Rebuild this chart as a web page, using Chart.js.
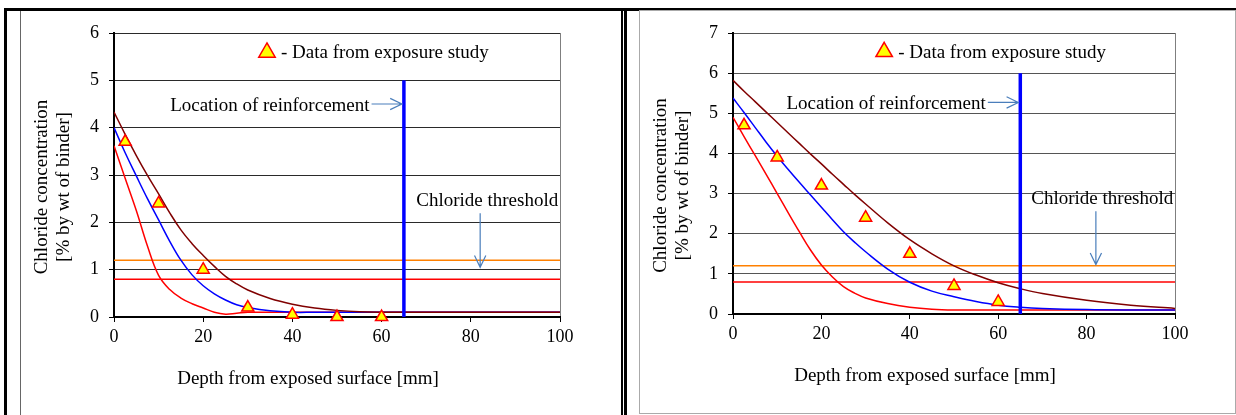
<!DOCTYPE html>
<html lang="en">
<head>
<meta charset="UTF-8">
<title>Chloride profiles</title>
<script src="https://cdn.jsdelivr.net/npm/chart.js/dist/chart.umd.min.js"></script>
<style>
  body { margin: 0; background: #fff; width: 1236px; height: 415px; position: relative; overflow: hidden; }
  .rule { position: absolute; background: #000; }
  canvas { position: absolute; }
  #left { left: 22px; top: 11px; }
  #right { left: 640px; top: 11px; }
</style>
</head>
<body>
  <!-- table frame around the two panels -->
  <div class="rule" style="left:4px;top:8px;width:1232px;height:3px"></div>
  <div class="rule" style="left:4px;top:8px;width:3px;height:407px"></div>
  <div class="rule" style="left:20px;top:11px;width:1px;height:404px;background:#666"></div>
  <div class="rule" style="left:621px;top:11px;width:2px;height:404px"></div>
  <div class="rule" style="left:624px;top:8px;width:3px;height:407px"></div>
  <div style="position:absolute;left:639px;top:10px;width:595px;height:402px;border:1px solid #aaa"></div>

  <canvas id="left" width="598" height="404"></canvas>
  <canvas id="right" width="595" height="402"></canvas>

<script>
// depth grid shared by the fitted profiles [mm]
const depth = [0, 2.5, 5, 7.5, 10, 12.5, 15, 17.5, 20, 22.5, 25, 27.5, 30, 35, 40, 45, 50, 55, 60, 65, 70, 80, 90, 100];

// left panel profiles [% by wt of binder]
const leftBrown = [4.33, 3.86, 3.41, 2.99, 2.6, 2.2, 1.84, 1.55, 1.3, 1.07, 0.86, 0.7, 0.57, 0.39, 0.27, 0.19, 0.14, 0.11, 0.1, 0.1, 0.1, 0.1, 0.1, 0.1];
const leftBlue  = [4.0, 3.47, 2.98, 2.5, 2.05, 1.6, 1.2, 0.89, 0.66, 0.49, 0.36, 0.26, 0.2, 0.13, 0.1, 0.1, 0.1, 0.1, 0.1, 0.1, 0.1, 0.1, 0.1, 0.1];
const leftRed   = [3.62, 2.93, 2.25, 1.5, 0.88, 0.58, 0.4, 0.28, 0.19, 0.1, 0.06, 0.08, 0.1, 0.1, 0.1, 0.1, 0.1, 0.1, 0.1, 0.1, 0.1, 0.1, 0.1, 0.1];

// right panel profiles
const rightBrown = [5.82, 5.55, 5.29, 5.03, 4.77, 4.51, 4.25, 3.99, 3.74, 3.48, 3.23, 2.98, 2.74, 2.27, 1.85, 1.5, 1.2, 0.97, 0.78, 0.63, 0.51, 0.34, 0.22, 0.14];
const rightBlue  = [5.38, 5.02, 4.65, 4.28, 3.93, 3.6, 3.28, 2.97, 2.66, 2.35, 2.05, 1.79, 1.55, 1.12, 0.79, 0.57, 0.43, 0.31, 0.22, 0.17, 0.14, 0.11, 0.1, 0.1];
const rightRed   = [4.9, 4.42, 3.95, 3.48, 3.0, 2.52, 2.05, 1.6, 1.22, 0.92, 0.68, 0.52, 0.4, 0.26, 0.17, 0.12, 0.1, 0.1, 0.1, 0.1, 0.1, 0.1, 0.1, 0.1];

// exposure study measurements
const studyDepth = [2.5, 10, 20, 30, 40, 50, 60];
const leftStudy  = [3.7, 2.4, 1.0, 0.2, 0.05, 0, 0];
const rightStudy = [4.7, 3.9, 3.2, 2.4, 1.5, 0.7, 0.3];

// thresholds and rebar
const depthRange = [0, 100];
const thresholdHigh = 1.2;
const thresholdLow = 0.8;
const rebarDepth = 65;
const leftRebarSpan = [0, 5];
const rightRebarSpan = [0, 6];

Chart.defaults.font.family = '"Liberation Serif", "Times New Roman", serif';
Chart.defaults.color = '#000';

const pts = (xs, ys) => xs.map((x, i) => ({ x: x, y: ys[i] }));

function arrow(ctx, x1, y1, x2, y2) {
  const ang = Math.atan2(y2 - y1, x2 - x1), h = 13, w = 0.45;
  ctx.save();
  ctx.strokeStyle = '#4a7ebb';
  ctx.lineWidth = 1.2;
  ctx.beginPath();
  ctx.moveTo(x1, y1);
  ctx.lineTo(x2, y2);
  ctx.moveTo(x2 - h * Math.cos(ang - w), y2 - h * Math.sin(ang - w));
  ctx.lineTo(x2, y2);
  ctx.lineTo(x2 - h * Math.cos(ang + w), y2 - h * Math.sin(ang + w));
  ctx.stroke();
  ctx.restore();
}

function triangle(ctx, cx, cy, r) {
  ctx.save();
  ctx.beginPath();
  for (let k = 0; k < 3; k++) {
    const t = k * 2 * Math.PI / 3;
    ctx.lineTo(cx + Math.sin(t) * r, cy - Math.cos(t) * r);
  }
  ctx.closePath();
  ctx.fillStyle = '#ffff00';
  ctx.fill();
  ctx.strokeStyle = '#ff0000';
  ctx.lineWidth = 1.5;
  ctx.stroke();
  ctx.restore();
}

// text labels, arrows, key and axis titles
const notes = {
  id: 'notes',
  afterDatasetsDraw(chart, args, o) {
    const { ctx, chartArea: a, scales: { x, y } } = chart;
    const px = v => x.getPixelForValue(v), py = v => y.getPixelForValue(v);
    ctx.save();
    ctx.font = '19px "Liberation Serif"';
    ctx.textBaseline = 'middle';

    const kx = px(o.key[0]), ky = py(o.key[1]);
    triangle(ctx, kx, ky, 9.5);
    ctx.fillStyle = '#000';
    ctx.textAlign = 'left';
    ctx.fillText('- Data from exposure study', kx + 14, ky + 1);

    const ry = py(o.rebar[1]);
    ctx.textAlign = 'right';
    ctx.fillText('Location of reinforcement', px(o.rebar[0]), ry + 2);
    arrow(ctx, px(o.rebar[0]) + 2, ry, px(rebarDepth) - 2, ry);

    ctx.fillText('Chloride threshold', px(o.threshold[0]), py(o.threshold[1]) + 1);
    const ax = px(o.thresholdArrow[0]);
    arrow(ctx, ax, py(o.thresholdArrow[1]), ax, py(o.thresholdArrow[2]));

    ctx.textAlign = 'center';
    ctx.fillText('Depth from exposed surface [mm]', (a.left + a.right) / 2 - 29, a.bottom + 62);
    ctx.translate(a.left - 72, (a.top + a.bottom) / 2 + 12);
    ctx.rotate(-Math.PI / 2);
    ctx.fillText('Chloride concentration', 0, 0);
    ctx.fillText('[% by wt of binder]', 0, 22.5);
    ctx.restore();
  }
};

function curve(ys, color) {
  return { data: pts(depth, ys), showLine: true, borderColor: color, borderWidth: 1.5,
           pointRadius: 0, tension: 0.4 };
}

function flat(v, color) {
  return { data: pts(depthRange, [v, v]), showLine: true, borderColor: color, borderWidth: 1.5, pointRadius: 0 };
}

function panel(id, p) {
  new Chart(document.getElementById(id), {
    type: 'scatter',
    data: {
      datasets: [
        { data: pts(studyDepth, p.study), pointStyle: 'triangle', pointRadius: 7,
          backgroundColor: '#ffff00', borderColor: '#ff0000', borderWidth: 1.5, clip: false },
        { data: pts([rebarDepth, rebarDepth], p.rebarSpan), showLine: true, borderColor: '#0000ff',
          borderWidth: 3.5, pointRadius: 0 },
        curve(p.brown, '#800000'),
        curve(p.blue, '#0000ff'),
        curve(p.red, '#ff0000'),
        flat(thresholdHigh, '#ff8000'),
        flat(thresholdLow, '#ff0000')
      ]
    },
    options: {
      responsive: false,
      animation: false,
      layout: { padding: { left: 0, top: 22, right: 60, bottom: 0 } },
      plugins: { legend: { display: false }, tooltip: { enabled: false }, notes: p.notes },
      scales: {
        x: {
          type: 'linear', min: 0, max: 100,
          ticks: { stepSize: 20, padding: 4, maxRotation: 0, font: { size: 18 } },
          grid: { color: c => c.tick && c.tick.value === 100 ? '#7f7f7f' : 'rgba(0,0,0,0)',
                  tickColor: '#000', tickLength: 5 },
          border: { color: '#000', width: 2 },
          afterFit: s => { s.height = p.xAxisH; }
        },
        y: {
          min: 0, max: p.yMax,
          ticks: { stepSize: 1, padding: 10, font: { size: 18 } },
          grid: { color: p.gridColor, tickColor: '#000', tickLength: 5 },
          border: { color: '#000', width: 2 },
          afterFit: s => { s.width = p.yAxisW; }
        }
      }
    },
    plugins: [notes]
  });
}

panel('left', {
  brown: leftBrown, blue: leftBlue, red: leftRed, study: leftStudy, rebarSpan: leftRebarSpan,
  yMax: 6, gridColor: '#2a2a2a', xAxisH: 98, yAxisW: 92,
  notes: { key: [34.3, 5.59], rebar: [57.3, 4.5], threshold: [99.6, 2.48], thresholdArrow: [82.1, 2.19, 1.05] }
});

panel('right', {
  brown: rightBrown, blue: rightBlue, red: rightRed, study: rightStudy, rebarSpan: rightRebarSpan,
  yMax: 7, gridColor: '#555', xAxisH: 99, yAxisW: 93,
  notes: { key: [34.2, 6.53], rebar: [57.2, 5.27], threshold: [99.6, 2.9], thresholdArrow: [82.1, 2.56, 1.23] }
});
</script>
</body>
</html>
